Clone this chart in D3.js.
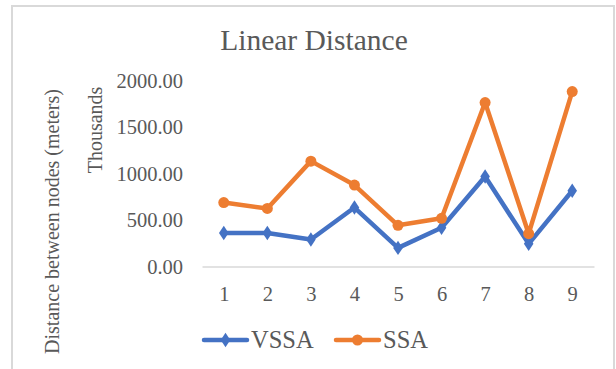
<!DOCTYPE html>
<html>
<head>
<meta charset="utf-8">
<script src="https://cdn.jsdelivr.net/npm/d3@7"></script>
<style>
  html, body { margin: 0; padding: 0; background: #fff; }
  svg { display: block; }
  svg text { font-family: "Liberation Serif", "Times New Roman", serif !important; }
</style>
</head>
<body>
<svg id="chart" width="616" height="369"></svg>
<script>
// Distances between nodes, in thousands of meters
const categories = ["1", "2", "3", "4", "5", "6", "7", "8", "9"];
const vssa = [360, 360, 290, 634, 200, 417, 967, 244, 815];
const ssa = [688, 624, 1133, 876, 443, 518, 1763, 353, 1881];
const yTicks = [0, 500, 1000, 1500, 2000];
const seriesNames = ["VSSA", "SSA"];
const seriesColors = ["#4472C4", "#ED7D31"];

const svg = d3.select("#chart");
const textColor = "#595959";

// chart frame
svg.append("rect")
  .attr("x", 12).attr("y", 6)
  .attr("width", 602).attr("height", 380)
  .attr("fill", "none").attr("stroke", "#d9d9d9").attr("stroke-width", 2);

// title
svg.append("text")
  .attr("x", 314).attr("y", 49.5)
  .attr("text-anchor", "middle")
  .attr("fill", textColor)
  .attr("font-size", 29.5)
  .text("Linear Distance");

const x = d3.scalePoint().domain(categories).range([202, 594]).padding(0.5);
const y = d3.scaleLinear().domain([0, 2000]).range([266.5, 80.5]);

// y axis labels (no line, no ticks)
const yAxis = d3.axisLeft(y).tickValues(yTicks).tickFormat(d3.format(".2f")).tickSize(0).tickPadding(0);
const gy = svg.append("g").attr("transform", "translate(183,0)").call(yAxis);
gy.select(".domain").remove();
gy.selectAll("text").attr("fill", textColor).attr("font-size", 20.5);

// x axis: baseline plus category labels
const xAxis = d3.axisBottom(x).tickSize(0).tickPadding(20);
const gx = svg.append("g").attr("transform", `translate(0,${y(0)})`).call(xAxis);
gx.select(".domain").attr("stroke", "#d9d9d9").attr("stroke-width", 1.5);
gx.selectAll("text").attr("fill", textColor).attr("font-size", 20.5);

// axis titles
svg.append("text")
  .attr("transform", "translate(59,221.5) rotate(-90)")
  .attr("text-anchor", "middle")
  .attr("fill", textColor).attr("font-size", 20)
  .text("Distance between nodes (meters)");
svg.append("text")
  .attr("transform", "translate(102,130) rotate(-90)")
  .attr("text-anchor", "middle")
  .attr("fill", textColor).attr("font-size", 20)
  .text("Thousands");

const line = d3.line().x((d, i) => x(categories[i])).y(d => y(d));
const series = [vssa, ssa];

const diamond = d3.symbol().type(d3.symbolDiamond).size(60);

series.forEach((vals, si) => {
  svg.append("path")
    .datum(vals)
    .attr("d", line)
    .attr("fill", "none")
    .attr("stroke", seriesColors[si])
    .attr("stroke-width", 4.5)
    .attr("stroke-linejoin", "round")
    .attr("stroke-linecap", "round");
  const g = svg.append("g");
  if (si === 0) {
    g.selectAll("path").data(vals).join("path")
      .attr("d", diamond)
      .attr("transform", (d, i) => `translate(${x(categories[i])},${y(d)}) scale(1.15,1)`)
      .attr("fill", seriesColors[si]);
  } else {
    g.selectAll("circle").data(vals).join("circle")
      .attr("cx", (d, i) => x(categories[i]))
      .attr("cy", d => y(d))
      .attr("r", 5.5)
      .attr("fill", seriesColors[si]);
  }
});

// legend
const legendItems = [
  { name: seriesNames[0], color: seriesColors[0], x0: 204, tx: 251 },
  { name: seriesNames[1], color: seriesColors[1], x0: 336, tx: 383 }
];
legendItems.forEach((it, i) => {
  const g = svg.append("g");
  g.append("line")
    .attr("x1", it.x0).attr("x2", it.x0 + 43)
    .attr("y1", 340).attr("y2", 340)
    .attr("stroke", it.color).attr("stroke-width", 4.5).attr("stroke-linecap", "round");
  if (i === 0) {
    g.append("path").attr("d", diamond)
      .attr("transform", `translate(${it.x0 + 21.5},340) scale(1.15,1)`)
      .attr("fill", it.color);
  } else {
    g.append("circle").attr("cx", it.x0 + 21.5).attr("cy", 340).attr("r", 5.5).attr("fill", it.color);
  }
  g.append("text")
    .attr("x", it.tx).attr("y", 348)
    .attr("fill", textColor).attr("font-size", 24.5)
    .text(it.name);
});
</script>
</body>
</html>
